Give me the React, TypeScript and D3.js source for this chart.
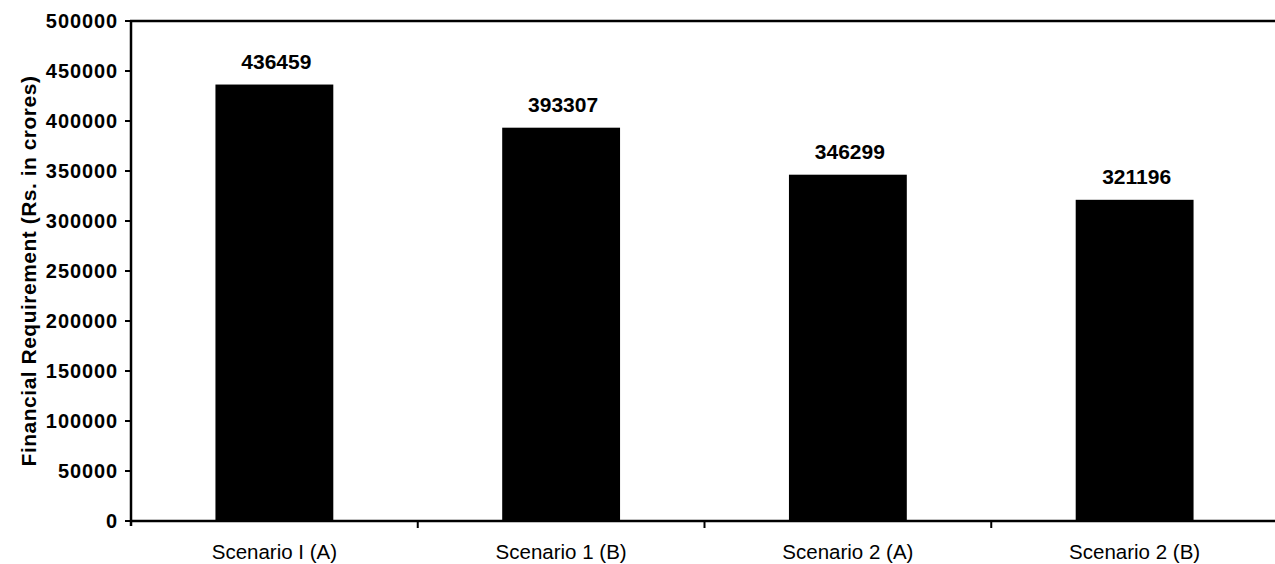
import React from "react";
import * as d3 from "d3";

const categories: string[] = ["Scenario I (A)", "Scenario 1 (B)", "Scenario 2 (A)", "Scenario 2 (B)"];
const values: number[] = [436459, 393307, 346299, 321196];
const yTicks: number[] = [0, 50000, 100000, 150000, 200000, 250000, 300000, 350000, 400000, 450000, 500000];
const yTitle = "Financial Requirement (Rs. in crores)";

const W = 1275;
const H = 564;
const left = 131;
const right = 1278;
const top = 21;
const bottom = 521;
const FONT = "'Liberation Sans', Arial, Helvetica, sans-serif";

export default function App() {
  const x = d3
    .scaleBand<string>()
    .domain(categories)
    .range([left, right])
    .paddingInner(0.589)
    .paddingOuter(0.2945);
  const y = d3.scaleLinear().domain([0, 500000]).range([bottom, top]);
  const step = x.step();
  const boundaries = categories.slice(1).map((c) => (x(c) as number) - (step - x.bandwidth()) / 2);

  return (
    <svg
      width={W}
      height={H}
      viewBox={`0 0 ${W} ${H}`}
      style={{ position: "absolute", left: 0, top: 0, background: "#fff" }}
      fontFamily={FONT}
    >
      <rect x={0} y={0} width={W} height={H} fill="#fff" />
      {/* bars */}
      {categories.map((c, i) => (
        <rect
          key={c}
          x={x(c)}
          y={y(values[i])}
          width={x.bandwidth()}
          height={bottom - y(values[i])}
          fill="#000"
        />
      ))}
      {/* value labels */}
      {categories.map((c, i) => (
        <text
          key={"v" + c}
          x={(x(c) as number) + x.bandwidth() / 2 + 2}
          y={y(values[i]) - 16}
          textAnchor="middle"
          fontSize={21}
          fontWeight="bold"
          fill="#000"
        >
          {values[i]}
        </text>
      ))}
      {/* top border */}
      <line x1={left - 1} x2={W} y1={top} y2={top} stroke="#000" strokeWidth={2.5} />
      {/* y axis */}
      <line x1={left} x2={left} y1={top - 1} y2={bottom + 5} stroke="#000" strokeWidth={2.5} />
      {yTicks.map((t) => (
        <g key={"yt" + t}>
          <line x1={left - 6} x2={left} y1={y(t)} y2={y(t)} stroke="#000" strokeWidth={2} />
          <text
            x={left - 13}
            y={y(t)}
            dy="0.36em"
            textAnchor="end"
            fontSize={20}
            fontWeight="bold"
            letterSpacing={0.9}
            fill="#000"
          >
            {t}
          </text>
        </g>
      ))}
      {/* x axis */}
      <line x1={left} x2={W} y1={bottom} y2={bottom} stroke="#000" strokeWidth={2.5} />
      {boundaries.map((b, i) => (
        <line key={"xt" + i} x1={b} x2={b} y1={bottom} y2={bottom + 7} stroke="#000" strokeWidth={2} />
      ))}
      {categories.map((c) => (
        <text
          key={"xl" + c}
          x={(x(c) as number) + x.bandwidth() / 2}
          y={559}
          textAnchor="middle"
          fontSize={20.5}
          fill="#000"
        >
          {c}
        </text>
      ))}
      {/* y title */}
      <text
        transform={`translate(36, ${(top + bottom) / 2}) rotate(-90)`}
        textAnchor="middle"
        fontSize={21}
        fontWeight="bold"
        letterSpacing={0.5}
        fill="#000"
      >
        {yTitle}
      </text>
    </svg>
  );
}
